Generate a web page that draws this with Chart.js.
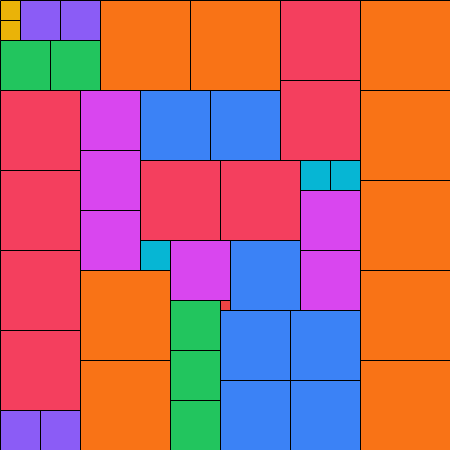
<!DOCTYPE html>
<html lang="en">
<head>
  <meta charset="UTF-8" />
  <title>Partridge Squares</title>
  <style>
    html, body { margin: 0; padding: 0; background: #fff; }
    #wrap { width: 450px; height: 450px; }
  </style>
</head>
<body>
  <div id="wrap"><canvas id="tiles" width="450" height="450"></canvas></div>

  <script src="https://cdn.jsdelivr.net/npm/chart.js"></script>
  <script>
    // square side lengths (grid units) and the colour used for each
    const sizes = [1, 2, 3, 4, 5, 6, 7, 8, 9];
    const colors = ["#EF4444", "#EAB308", "#06B6D4", "#8B5CF6", "#22C55E", "#D946EF", "#3B82F6", "#F43F5E", "#F97316"];

    // placements: top-left column, top-left row (grid units), per size
    const col1 = [22], row1 = [30];
    const col2 = [0, 0], row2 = [0, 2];
    const col3 = [30, 33, 14], row3 = [16, 16, 24];
    const col4 = [2, 6, 0, 4], row4 = [0, 0, 41, 41];
    const col5 = [0, 5, 17, 17, 17], row5 = [4, 4, 30, 35, 40];
    const col6 = [8, 8, 8, 30, 30, 17], row6 = [9, 15, 21, 19, 25, 24];
    const col7 = [14, 21, 23, 22, 29, 22, 29], row7 = [9, 9, 24, 31, 31, 38, 38];
    const col8 = [28, 28, 0, 0, 0, 0, 14, 22], row8 = [0, 8, 9, 17, 25, 33, 16, 16];
    const col9 = [10, 19, 36, 36, 36, 36, 36, 8, 8], row9 = [0, 0, 0, 9, 18, 27, 36, 27, 36];

    const cols = [col1, col2, col3, col4, col5, col6, col7, col8, col9];
    const rows = [row1, row2, row3, row4, row5, row6, row7, row8, row9];

    const datasets = [];
    sizes.forEach((s, i) => {
      cols[i].forEach((c, j) => {
        const r = rows[i][j];
        datasets.push({
          data: [
            { x: c, y: r }, { x: c + s, y: r },
            { x: c + s, y: r + s }, { x: c, y: r + s },
            { x: c, y: r }
          ],
          backgroundColor: colors[i],
          borderColor: "#000",
          borderWidth: 1,
          fill: "shape",
          pointRadius: 0,
          pointHoverRadius: 0,
          tension: 0
        });
      });
    });

    new Chart(document.getElementById("tiles"), {
      type: "line",
      data: { datasets: datasets },
      options: {
        responsive: false,
        animation: false,
        layout: { padding: 0 },
        events: [],
        plugins: {
          legend: { display: false },
          tooltip: { enabled: false },
          filler: { drawTime: "beforeDatasetsDraw" }
        },
        scales: {
          x: { type: "linear", min: -0.05, max: 44.95, display: false },
          y: { type: "linear", min: -0.05, max: 44.95, reverse: true, display: false }
        }
      }
    });
  </script>
</body>
</html>
